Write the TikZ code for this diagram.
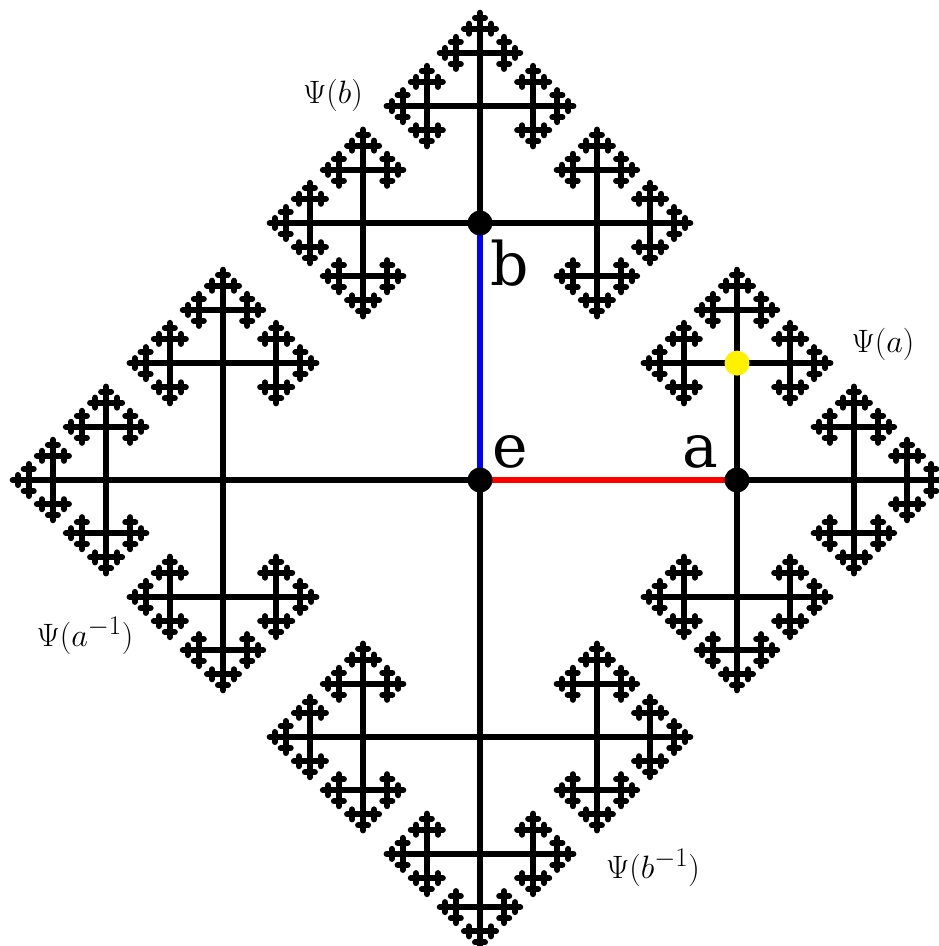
\documentclass[tikz,border=0pt]{standalone}
\usepackage{fontspec}
\newfontfamily\lblfont{DejaVu Serif}
\usetikzlibrary{positioning}

% ratio between the edge lengths of two successive levels
\newcommand\treeratio{0.455}
% x, y, length, direction (0..3), depth
\newcommand\fractree[5]{%
  \ifnum#5>0\relax
    \foreach \turn in {-1,0,1}{%
      \pgfmathtruncatemacro\newdir{mod(#4+\turn+4,4)}
      \pgfmathsetmacro\newx{#1+#3*cos(90*\newdir)}
      \pgfmathsetmacro\newy{#2+#3*sin(90*\newdir)}
      \pgfmathsetmacro\newlen{#3*\treeratio}
      \pgfmathtruncatemacro\newdepth{#5-1}
      \draw[edge] (#1,#2) -- (\newx,\newy);
      \edef\nexttree{\noexpand\fractree{\newx}{\newy}{\newlen}{\newdir}{\newdepth}}%
      \nexttree
    }%
  \fi}
\newcommand\psilbl[1]{\scalebox{1.3}{\Huge$\Psi(#1)$}}

\begin{document}
\begin{tikzpicture}[x=1pt, y=-1pt,
    edge/.style={line width=6pt, line cap=round, draw=black},
    dot/.style={circle, fill=black, minimum size=25pt, inner sep=0pt},
    letter/.style={font=\lblfont\fontsize{60}{60}\selectfont, anchor=base west, inner sep=0pt},
    psi/.style={inner sep=0pt}
  ]
    \useasboundingbox (0,0) rectangle (939,946);
    \coordinate (e) at (480,480);
    \coordinate (a) at (737,480);
    \coordinate (b) at (480,223);
    \coordinate (ainv) at (223,480);
    \coordinate (binv) at (480,737);
    \coordinate (ab) at (737,363.1);
    % the four subtrees
    \fractree{737}{480}{116.9}{0}{5}
    \fractree{480}{223}{116.9}{3}{5}
    \fractree{223}{480}{116.9}{2}{5}
    \fractree{480}{737}{116.9}{1}{5}
    % first level
    \draw[edge] (e) -- (ainv);
    \draw[edge] (e) -- (binv);
    \draw[edge, draw=red] (e) -- (a);
    \draw[edge, draw=blue] (e) -- (b);
    \node[dot] (E) at (e) {};
    \node[dot] (A) at (a) {};
    \node[dot] (B) at (b) {};
    \node[dot, fill=yellow] (AB) at (ab) {};
    \node[letter] at (492,467) {e};
    \node[letter] at (682,467) {a};
    \node[letter] at (490,285) {b};
    \node[psi] at (333,95) {\psilbl{b}};
    \node[psi] at (883,344) {\psilbl{a}};
    \node[psi] at (85,636) {\psilbl{a^{-1}}};
    \node[psi] at (653,868) {\psilbl{b^{-1}}};
  \end{tikzpicture}
\end{document}
